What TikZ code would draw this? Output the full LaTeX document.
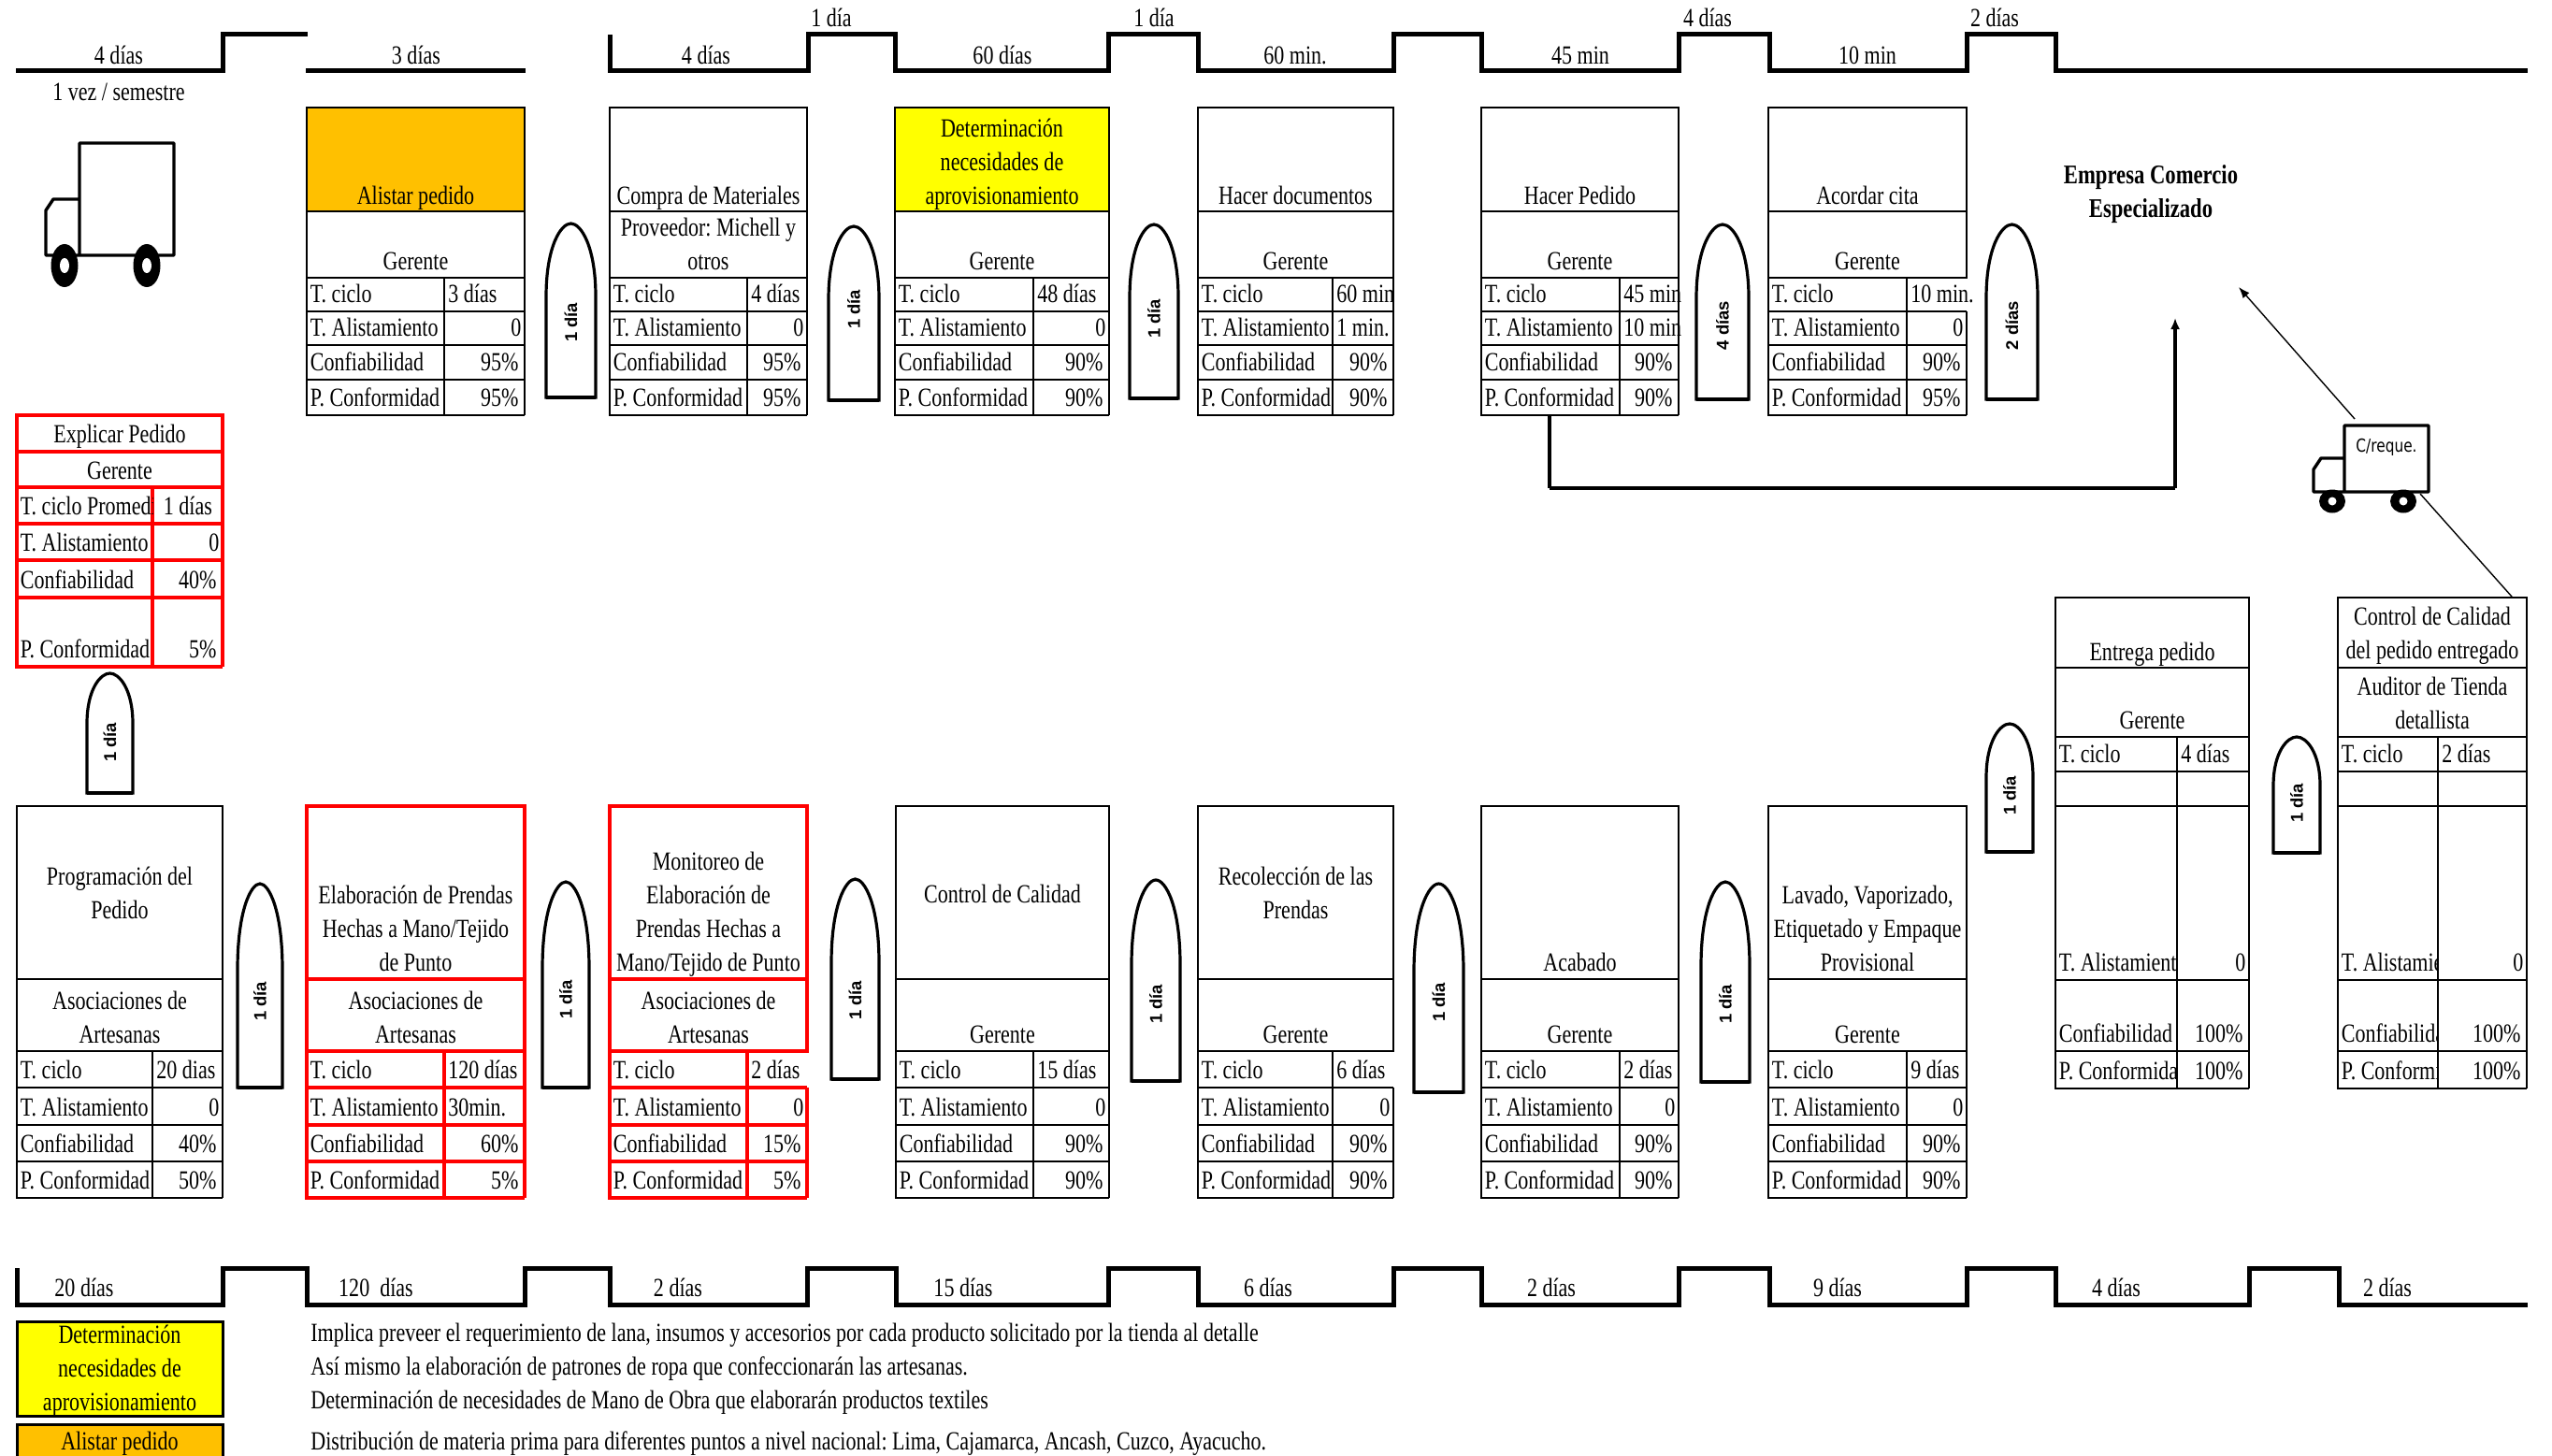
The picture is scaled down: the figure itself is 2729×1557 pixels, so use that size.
\documentclass[tikz,border=0pt]{standalone}
\usepackage{fontspec}
\setmainfont[FakeStretch=0.787]{Liberation Serif}
\newfontfamily\diafont{Liberation Sans}
\newfontfamily\truckfont[FakeStretch=0.8]{DejaVu Sans}
\usetikzlibrary{arrows.meta}
\definecolor{vsmamber}{HTML}{FFC000}
\definecolor{vsmred}{HTML}{FF0000}
\definecolor{vsmyellow}{HTML}{FFFF00}
\frenchspacing
\newcommand{\rv}[1]{\hfill#1}
\newcommand{\pv}[1]{\hfill#1\%\hspace{1.5pt}}
\newcommand{\rowsat}[7]{\def\yA{#1}\def\yB{#2}\def\yC{#3}\def\yD{#4}\def\yE{#5}\def\yF{#6}\def\yG{#7}}
\newcommand{\vsmrow}[6][1]{%
  \draw[\sty] (\xb,#3) -- (\xa,#3) -- (\xa,#4) -- (\xb,#4) (\xd,#3) -- (\xd,#4);
  \draw[\sty,draw opacity=#1] (\xb,#3) -- (\xb,#4);
  \begin{scope}
    \clip (\xa,#3) rectangle (\xd,#4);
    \node[lab,anchor=base west] (\bn-#2a) at (\xa+3.5,#4-9.5) {#5};
  \end{scope}
  \pgfmathsetlengthmacro\vw{(\xb-\xd-8)*0.5pt}
  \node[lab,anchor=base west] (\bn-#2b) at (\xd+4,#4-9.5) {\makebox[\vw][l]{#6}};}
\newcommand{\vsmbox}{%
  \draw[\sty,fill=\tint] (\xa,\yA) rectangle (\xb,\yB);
  \draw[\sty] (\xa,\yB) rectangle (\xb,\yC);
  \node[celltitle] (\bn-title) at ({(\xa+\xb)/2},\yB-\up) {\ttl};
  \node[celltitle] (\bn-owner) at ({(\xa+\xb)/2},\yC-7.7) {\own};
  \vsmrow[\re]{tc}{\yC}{\yD}{\tclab}{\tcv}
  \vsmrow{al}{\yD}{\yE}{T. Alistamiento}{\alv}
  \vsmrow{co}{\yE}{\yF}{Confiabilidad}{\cov}
  \vsmrow{pc}{\yF}{\yG}{P. Conformidad}{\pcv}}
\begin{document}
\begin{tikzpicture}[x=0.5pt,y=-0.5pt,>=Latex,
  every node/.style={font=\fontsize{14}{18}\selectfont},
  lab/.style={inner sep=0pt,anchor=base},
  celltitle/.style={inner sep=0pt,anchor=south,text depth=0pt,align=center},
  cellk/.style={draw=black,line width=1.25pt},
  cellr/.style={draw=vsmred,line width=2.3pt},
  tline/.style={draw=black,line width=2.5pt},
  bullet/.style={draw=black,line width=1.6pt,fill=white},
  bulletlab/.style={inner sep=0pt,rotate=90,font=\diafont\bfseries\fontsize{9.2}{11}\selectfont},
  truckline/.style={draw=black,line join=round}]
  \useasboundingbox (0,0) rectangle (2729,1557);

  \draw[tline] (17,76) -- (238,76) -- (238,37) -- (329,37);
  \draw[tline] (327,76) -- (562,76);
  \draw[tline] (652,37) -- (652,76) -- (864,76) -- (864,37) -- (957,37) -- (957,76)
    -- (1185,76) -- (1185,37) -- (1281,37) -- (1281,76) -- (1490,76) -- (1490,37)
    -- (1584,37) -- (1584,76) -- (1795,76) -- (1795,37) -- (1892,37) -- (1892,76)
    -- (2103,76) -- (2103,37) -- (2198,37) -- (2198,76) -- (2703,76);
  \draw[tline] (18,1356) -- (18,1395) -- (238,1395) -- (238,1356) -- (328,1356)
    -- (328,1395) -- (561,1395) -- (561,1356) -- (652,1356) -- (652,1395) -- (863,1395)
    -- (863,1356) -- (958,1356) -- (958,1395) -- (1185,1395) -- (1185,1356) -- (1281,1356)
    -- (1281,1395) -- (1490,1395) -- (1490,1356) -- (1584,1356) -- (1584,1395) -- (1795,1395)
    -- (1795,1356) -- (1892,1356) -- (1892,1395) -- (2103,1395) -- (2103,1356) -- (2198,1356)
    -- (2198,1395) -- (2405,1395) -- (2405,1356) -- (2501,1356) -- (2501,1395) -- (2703,1395);

  \foreach \x/\y/\lab [count=\i] in {127/69/4 días,445/69/3 días,755/69/4 días,889/28.5/1 día,
    1072/69/60 días,1234/28.5/1 día,1385/69/60 min.,1690/69/45 min,1826/28.5/4 días,1997/69/10 min,
    2133/28.5/2 días,90/1386/20 días,402/1386/120\ \ días,725/1386/2 días,1030/1386/15 días,
    1356/1386/6 días,1659/1386/2 días,1965/1386/9 días,2263/1386/4 días,2553/1386/2 días}
    \node[lab] (time\i) at (\x,\y) {\lab};
  \node[lab] (freq) at (127,108) {1 vez / semestre};

  \def\tclab{T. ciclo}
  \rowsat{115}{226}{297}{333}{369}{406}{444}
  \foreach \bn/\xa/\xd/\xb/\sty/\tint/\up/\ttl/\own/\tcv/\alv/\cov/\pcv/\re in {
    alistar/328/475/561/cellk/vsmamber/7.5/{Alistar pedido}/Gerente/{3 días}/{\rv{0}}/{\pv{95}}/{\pv{95}}/1,
    compra/652/799/863/cellk/white/7.5/{Compra de Materiales}/{Proveedor: Michell y\\otros}/{4 días}/{\rv{0}}/{\pv{95}}/{\pv{95}}/1,
    necesidad/957/1105/1186/cellk/vsmyellow/7.5/{Determinación\\necesidades de\\aprovisionamiento}/Gerente/{48 días}/{\rv{0}}/{\pv{90}}/{\pv{90}}/1,
    documentos/1281/1425/1490/cellk/white/7.5/{Hacer documentos}/Gerente/{60 min}/{1 min.}/{\pv{90}}/{\pv{90}}/1,
    pedido/1584/1732/1795/cellk/white/7.5/{Hacer Pedido}/Gerente/{45 min}/{10 min}/{\pv{90}}/{\pv{90}}/1,
    cita/1891/2039/2103/cellk/white/7.5/{Acordar cita}/Gerente/{10 min.}/{\rv{0}}/{\pv{90}}/{\pv{95}}/0}
    {\vsmbox}

  \rowsat{862}{1047}{1124}{1163}{1203}{1242}{1281}
  \foreach \bn/\xa/\xd/\xb/\sty/\tint/\up/\ttl/\own/\tcv/\alv/\cov/\pcv/\re in {
    programa/18/163/238/cellk/white/64/{Programación del\\Pedido}/{Asociaciones de\\Artesanas}/{20 dias}/{\rv{0}}/{\pv{40}}/{\pv{50}}/1,
    elabora/328/475/561/cellr/white/8/{Elaboración de Prendas\\Hechas a Mano/Tejido\\de Punto}/{Asociaciones de\\Artesanas}/{120 días}/{30min.}/{\pv{60}}/{\pv{5}}/1,
    monitoreo/652/799/863/cellr/white/8/{Monitoreo de\\Elaboración de\\Prendas Hechas a\\Mano/Tejido de Punto}/{Asociaciones de\\Artesanas}/{2 días}/{\rv{0}}/{\pv{15}}/{\pv{5}}/0,
    control/958/1105/1186/cellk/white/81/{Control de Calidad}/Gerente/{15 días}/{\rv{0}}/{\pv{90}}/{\pv{90}}/1,
    recoleccion/1281/1425/1490/cellk/white/64/{Recolección de las\\Prendas}/Gerente/{6 días}/{\rv{0}}/{\pv{90}}/{\pv{90}}/0,
    acabado/1584/1732/1795/cellk/white/8/{Acabado}/Gerente/{2 días}/{\rv{0}}/{\pv{90}}/{\pv{90}}/1,
    lavado/1891/2039/2103/cellk/white/8/{Lavado, Vaporizado,\\Etiquetado y Empaque\\Provisional}/Gerente/{9 días}/{\rv{0}}/{\pv{90}}/{\pv{90}}/1}
    {\vsmbox}

  \rowsat{639}{714}{788}{825}{1048}{1124}{1164}
  \foreach \bn/\xa/\xd/\xb/\sty/\tint/\up/\ttl/\own/\tcv/\alv/\cov/\pcv/\re in {
    entrega/2198/2328/2405/cellk/white/7.5/{Entrega pedido}/Gerente/{4 días}/{\rv{0}}/{\pv{100}}/{\pv{100}}/1,
    auditor/2500/2607/2702/cellk/white/9/{Control de Calidad\\del pedido entregado}/{Auditor de Tienda\\detallista}/{2 días}/{\rv{0}}/{\pv{100}}/{\pv{100}}/1}
    {\vsmbox \draw[\sty] (\xa,862) -- (\xb,862);}

  \rowsat{444}{483}{521}{560}{599}{639}{713}
  \def\tclab{T. ciclo Promedio}
  \foreach \bn/\xa/\xd/\xb/\sty/\tint/\up/\ttl/\own/\tcv/\alv/\cov/\pcv/\re in {
    explicar/18/163/238/cellr/white/9/{Explicar Pedido}/Gerente/{\hfill 1 días\hfill}/{\rv{0}}/{\pv{40}}/{\pv{5}}/1}
    {\vsmbox}

  \foreach \xa/\xb/\yt/\yb/\ty/\lab [count=\i] in {
    584/637/239/425/345/1 día,886/940/242/428/331/1 día,1208/1260/240/426/341/1 día,
    1814/1870/240/427/348/4 días,2124/2179/240/427/348/2 días,93/142/720/848/794/1 día,
    254/302/945/1163/1071/1 día,580/630/943/1163/1069/1 día,889/940/940/1154/1070/1 día,
    1210/1262/941/1156/1074/1 día,1512/1565/945/1168/1072/1 día,1819/1871/943/1157/1074/1 día,
    2124/2174/774/911/851/1 día,2431/2481/788/912/859/1 día}
  {
    \pgfmathsetmacro\xm{(\xa+\xb)/2}
    \pgfmathsetmacro\ys{\yt+0.42*(\yb-\yt)}
    \pgfmathsetmacro\yc{\yt+0.13*(\yb-\yt)}
    \draw[bullet] (\xa,\yb) -- (\xa,\ys) .. controls (\xa,\yc) and ({\xm-0.2*(\xb-\xa)},\yt) .. (\xm,\yt)
      .. controls ({\xm+0.2*(\xb-\xa)},\yt) and (\xb,\yc) .. (\xb,\ys) -- (\xb,\yb) -- cycle;
    \draw[line width=2.2pt] (\xa,\yb) -- (\xb,\yb);
    \node[bulletlab] (buffer\i) at (\xm,\ty) {\lab};
  }

  \foreach \xa/\xm/\xe/\yt/\yc/\yb/\wa/\wb/\wy/\rx/\ry/\hx/\hy/\lw in {
    49/85/186/153/213/273/69/157/284/14.5/23/5/8/1.7pt,
    2474/2507/2597/455/490/526/2494/2570/536/14/12.5/4.5/4.5/1.7pt}
  {
    \draw[truckline,line width=\lw] (\xm,\yc) -- (\xa+8,\yc) -- (\xa,\yc+12) -- (\xa,\yb) -- (\xe,\yb)
      -- (\xe,\yt) -- (\xm,\yt) -- (\xm,\yb);
    \foreach \w in {\wa,\wb} {
      \fill[black] (\w,\wy) ellipse [x radius=\rx,y radius=\ry];
      \fill[white] (\w,\wy) ellipse [x radius=\hx,y radius=\hy];
    }
  }
  \node[inner sep=0pt,font=\truckfont\fontsize{9.6}{11}\selectfont] (reque) at (2552,478) {C/reque.};

  \node[celltitle,font=\fontsize{14.4}{18}\selectfont\bfseries] (empresa) at (2300,233) {Empresa Comercio\\Especializado};

  \coordinate (leadstart) at (1657,444);
  \coordinate (leadcorner) at (1657,522);
  \coordinate (leadturn) at (2326,522);
  \coordinate (leadend) at (2326,340);
  \coordinate (shipfrom) at (2518,448);
  \coordinate (shipto) at (2394,307);
  \coordinate (checkfrom) at (2686,638);
  \coordinate (checkto) at (2588,528);
  \draw[line width=1.6pt] (leadstart) -- (leadcorner);
  \draw[line width=2pt] (leadcorner) -- (leadturn);
  \draw[-{Latex[length=6pt,width=5pt]},line width=1.6pt] (leadturn) -- (leadend);
  \draw[-{Latex[length=6pt,width=4.5pt]},line width=0.7pt] (shipfrom) -- (shipto);
  \draw[line width=0.7pt] (checkfrom) -- (checkto);

  \draw[cellk,line width=1.5pt,fill=vsmyellow] (18,1413) rectangle (238,1514);
  \draw[cellk,line width=1.5pt,fill=vsmamber] (18,1523) rectangle (238,1575);
  \node[celltitle] (legnecesidad) at (128,1509) {Determinación\\necesidades de\\aprovisionamiento};
  \node[celltitle] (legalistar) at (128,1551) {Alistar pedido};
  \foreach \y/\lab [count=\i] in {
    1434/Implica preveer el requerimiento de lana{,} insumos y accesorios por cada producto solicitado por la tienda al detalle,
    1470/Así mismo la elaboración de patrones de ropa que confeccionarán las artesanas.,
    1506.5/Determinación de necesidades de Mano de Obra que elaborarán productos textiles,
    1550.5/Distribución de materia prima para diferentes puntos a nivel nacional: Lima{,} Cajamarca{,} Ancash{,} Cuzco{,} Ayacucho.}
    \node[lab,anchor=base west] (nota\i) at (332,\y) {\lab};
\end{tikzpicture}
\end{document}
